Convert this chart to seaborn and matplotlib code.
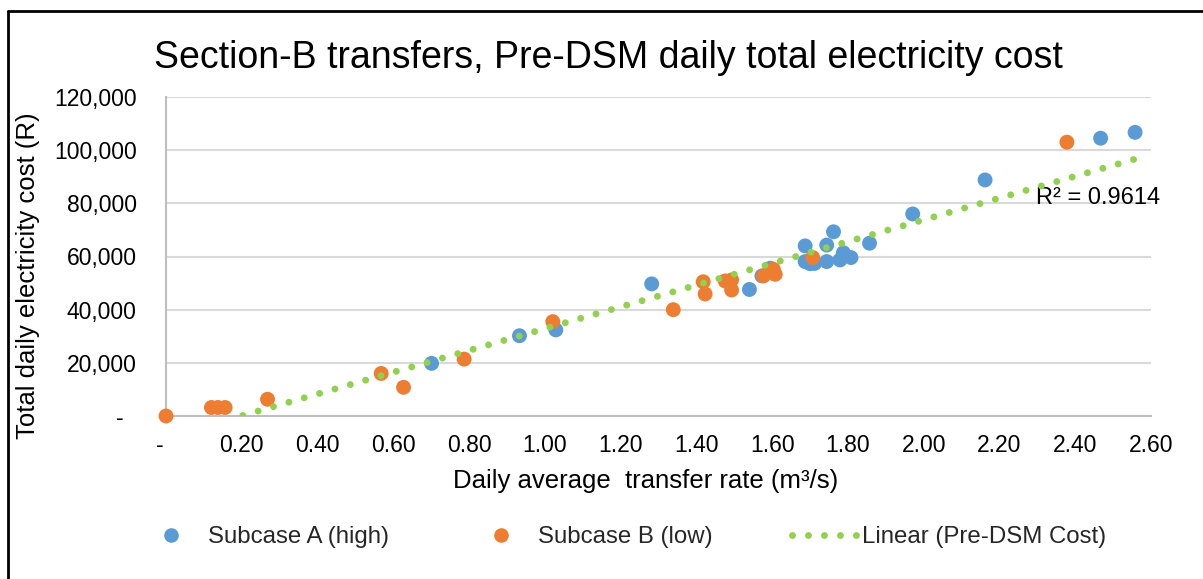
import numpy as np
import pandas as pd
import matplotlib
matplotlib.use("Agg")
import matplotlib.pyplot as plt
from matplotlib.lines import Line2D
from matplotlib.ticker import FixedLocator, FuncFormatter
import seaborn as sns

# Daily average transfer rate (m3/s) and total daily electricity cost (R)
subcase_a_rate = [0.701, 0.933, 1.029, 1.282, 1.540, 1.573, 1.595, 1.687, 1.687, 1.700,
                  1.712, 1.744, 1.762, 1.744, 1.779, 1.788, 1.808, 1.857, 1.971, 2.162,
                  2.467, 2.558]
subcase_a_cost = [19800, 30200, 32400, 49700, 47600, 52700, 55600, 64000, 58100, 57300,
                  57400, 64300, 69300, 58100, 58700, 61400, 59600, 65000, 76000, 88800,
                  104500, 106700]

subcase_b_rate = [0.0, 0.120, 0.137, 0.156, 0.268, 0.568, 0.627, 0.787, 1.021, 1.339,
                  1.418, 1.423, 1.476, 1.493, 1.493, 1.577, 1.603, 1.608, 1.707, 2.378]
subcase_b_cost = [0, 3200, 3200, 3200, 6300, 16000, 10800, 21400, 35500, 40000,
                  50500, 45900, 50800, 51200, 47400, 52700, 55200, 53300, 59600, 103000]

r_squared_label = "R² = 0.9614"

x_ticks = [0.0, 0.2, 0.4, 0.6, 0.8, 1.0, 1.2, 1.4, 1.6, 1.8, 2.0, 2.2, 2.4, 2.6]
y_ticks = [0, 20000, 40000, 60000, 80000, 100000, 120000]

BLUE = "#5B9BD5"
ORANGE = "#ED7D31"
GREEN = "#92D050"
GRID = "#D9D9D9"
AXIS = "#BFBFBF"
TEXT = "#000000"

sns.set_theme(style="white")
plt.rcParams["font.family"] = ["Liberation Sans", "DejaVu Sans"]

df = pd.concat([
    pd.DataFrame({"rate": subcase_a_rate, "cost": subcase_a_cost, "case": "Subcase A (high)"}),
    pd.DataFrame({"rate": subcase_b_rate, "cost": subcase_b_cost, "case": "Subcase B (low)"}),
], ignore_index=True)

fig = plt.figure(figsize=(12.03, 5.79), dpi=100)
ax = fig.add_axes([166 / 1203, 1 - 416 / 579, (1151 - 166) / 1203, (416 - 97) / 579])

ax.yaxis.grid(True, color=GRID, linewidth=1.5)
ax.set_axisbelow(True)

sns.scatterplot(data=df, x="rate", y="cost", hue="case",
                palette={"Subcase A (high)": BLUE, "Subcase B (low)": ORANGE},
                s=115, linewidth=0, ax=ax, legend=False, clip_on=False, zorder=3)

# Linear trendline through all transfers
dot_lw = 5.0
dot_style = (0, (0.001, 2.3))
sns.regplot(data=df, x="rate", y="cost", scatter=False, ci=None, truncate=True, ax=ax,
            line_kws=dict(color=GREEN, linewidth=dot_lw, linestyle=dot_style,
                          dash_capstyle="round", zorder=4))

ax.set_xlim(0, 2.6)
ax.set_ylim(0, 120000)
ax.xaxis.set_major_locator(FixedLocator(x_ticks))
ax.yaxis.set_major_locator(FixedLocator(y_ticks))
ax.xaxis.set_major_formatter(FuncFormatter(lambda v, p: "-  " if abs(v) < 1e-9 else f"{v:.2f}"))
ax.yaxis.set_major_formatter(FuncFormatter(lambda v, p: "-  " if abs(v) < 1e-9 else f"{v:,.0f}"))
ax.tick_params(axis="both", length=0, labelsize=16.5, colors=TEXT)
ax.tick_params(axis="x", pad=13)
ax.tick_params(axis="y", pad=21)

for side in ("top", "right"):
    ax.spines[side].set_visible(False)
for side in ("left", "bottom"):
    ax.spines[side].set_color(AXIS)
    ax.spines[side].set_linewidth(1.5)

ax.set_xlabel("")
ax.set_ylabel("")

ax.text(1036 / 1203, 1 - 198 / 579, r_squared_label, transform=fig.transFigure,
        fontsize=17, color=TEXT, ha="left", va="center")

fig.text(608 / 1203, 1 - 58 / 579, "Section-B transfers, Pre-DSM daily total electricity cost",
         fontsize=27, ha="center", va="center", color=TEXT)
fig.text(646 / 1203, 1 - 481 / 579, "Daily average  transfer rate (m³/s)",
         fontsize=18.5, ha="center", va="center", color=TEXT)
fig.text(28 / 1203, 1 - 276 / 579, "Total daily electricity cost (R)",
         fontsize=18.5, ha="center", va="center", rotation=90, color=TEXT)

handles = [
    Line2D([], [], linestyle="none", marker="o", markersize=10.5, color=BLUE, markeredgewidth=0),
    Line2D([], [], linestyle="none", marker="o", markersize=10.5, color=ORANGE, markeredgewidth=0),
    Line2D([], [], color=GREEN, linewidth=dot_lw, linestyle=dot_style, dash_capstyle="round"),
]
fig.legend(handles, ["Subcase A (high)", "Subcase B (low)", "Linear (Pre-DSM Cost)"],
           loc="center", bbox_to_anchor=(622 / 1203, 1 - 537 / 579), ncol=3, frameon=False,
           fontsize=17.3, handlelength=2.75, handletextpad=0.17, columnspacing=3.3,
           borderaxespad=0, borderpad=0)

# Chart-area border
fig.add_artist(Line2D([8 / 1203, 8 / 1203], [0, 1 - 11 / 579], transform=fig.transFigure,
                      color="black", linewidth=2))
fig.add_artist(Line2D([8 / 1203, 1], [1 - 11 / 579, 1 - 11 / 579], transform=fig.transFigure,
                      color="black", linewidth=2))

fig.savefig("out.png", dpi=100, facecolor="white")
